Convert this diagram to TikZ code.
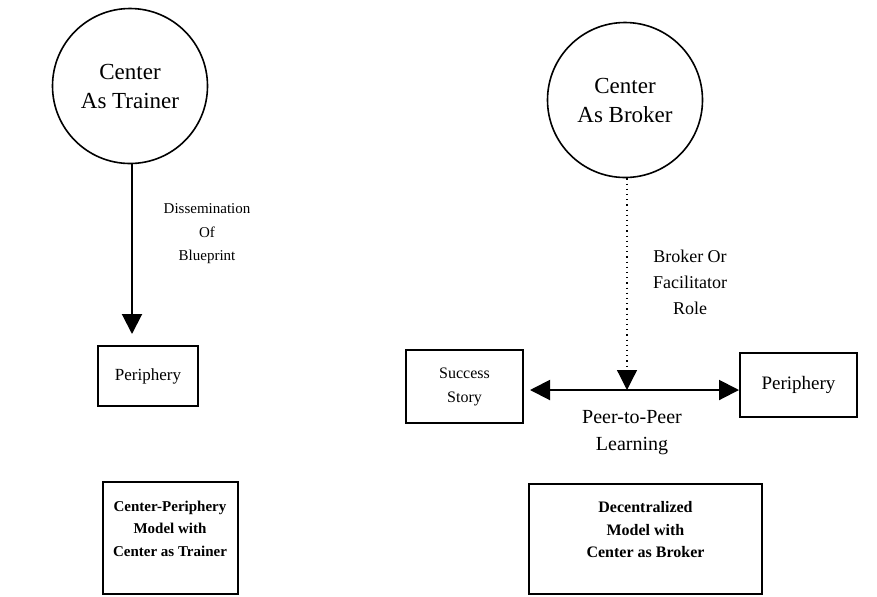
\documentclass[tikz,border=0pt]{standalone}
\usepackage{fontspec}
\setmainfont{Liberation Serif}
\usetikzlibrary{arrows.meta}
\usetikzlibrary{positioning}

\begin{document}
\begin{tikzpicture}[x=0.5pt, y=-0.5pt,
    hub/.style={draw, line width=0.8pt, circle, minimum size=77.5pt, inner sep=0pt, align=center, font=\fontsize{11.5}{14.5}\selectfont},
    box/.style={draw, line width=1pt, rectangle, inner sep=0pt, align=center},
    flow/.style={line width=1pt, -{Triangle[length=10pt, width=10pt]}}]
    \useasboundingbox (0,0) rectangle (877,596);
    % Left model: center as trainer
    \node[hub] (trainer) at (130,86) {Center\\As Trainer};
    % Periphery box under the trainer
    \node[box, minimum width=50pt, minimum height=30pt, font=\fontsize{8.5}{11}\selectfont] (perL) at (148,376) {Periphery};
    % Arrow down from circle, stops short of the box
    \draw[flow, shorten >=5.5pt] (trainer.south -| 132,0) -- (perL.north -| 132,0);
    \node[align=center, font=\fontsize{7.5}{11.75}\selectfont] (dissem) at (207,234) {Dissemination\\Of\\Blueprint};
    % Caption box of left model
    \node[box, minimum width=67.5pt, minimum height=56pt, font=\bfseries\fontsize{7.5}{11.25}\selectfont] (capL) at (170,538) {Center-Periphery\\Model with\\Center as Trainer\\[-2pt]};

    % Right model: center as broker
    \node[hub] (broker) at (625,100) {Center\\As Broker};
    \coordinate (meet) at (627,390);
    % Dotted broker line into the peer arrow
    \draw[flow, line width=0.6pt, dotted, -{Triangle[length=10pt, width=10pt]}] (broker.south -| meet) -- (meet);
    \node[align=center, font=\fontsize{9}{13}\selectfont] (brokerlbl) at (690,282) {Broker Or\\Facilitator\\Role};
    % Success story and periphery boxes
    \node[box, minimum width=58.5pt, minimum height=36.5pt, font=\fontsize{8}{12}\selectfont] (story) at (464.5,386.5) {Success\\Story};
    \node[box, minimum width=58.5pt, minimum height=32pt, font=\fontsize{9.5}{12}\selectfont] (perR) at (798.5,385) {Periphery};
    % Peer-to-peer double arrow
    \draw[line width=1pt, {Triangle[length=10pt, width=10pt]}-{Triangle[length=10pt, width=10pt]}, shorten <=3pt] (story.east |- meet) -- (perR.west |- meet);
    \node[align=center, font=\fontsize{10}{13.5}\selectfont] (peerlbl) at (632,433) {Peer-to-Peer\\Learning};
    % Caption box of right model
    \node[box, minimum width=116.5pt, minimum height=55pt, font=\bfseries\fontsize{8}{11.25}\selectfont] (capR) at (645.5,539) {Decentralized\\Model with\\Center as Broker\\[-2pt]};
\end{tikzpicture}
\end{document}
